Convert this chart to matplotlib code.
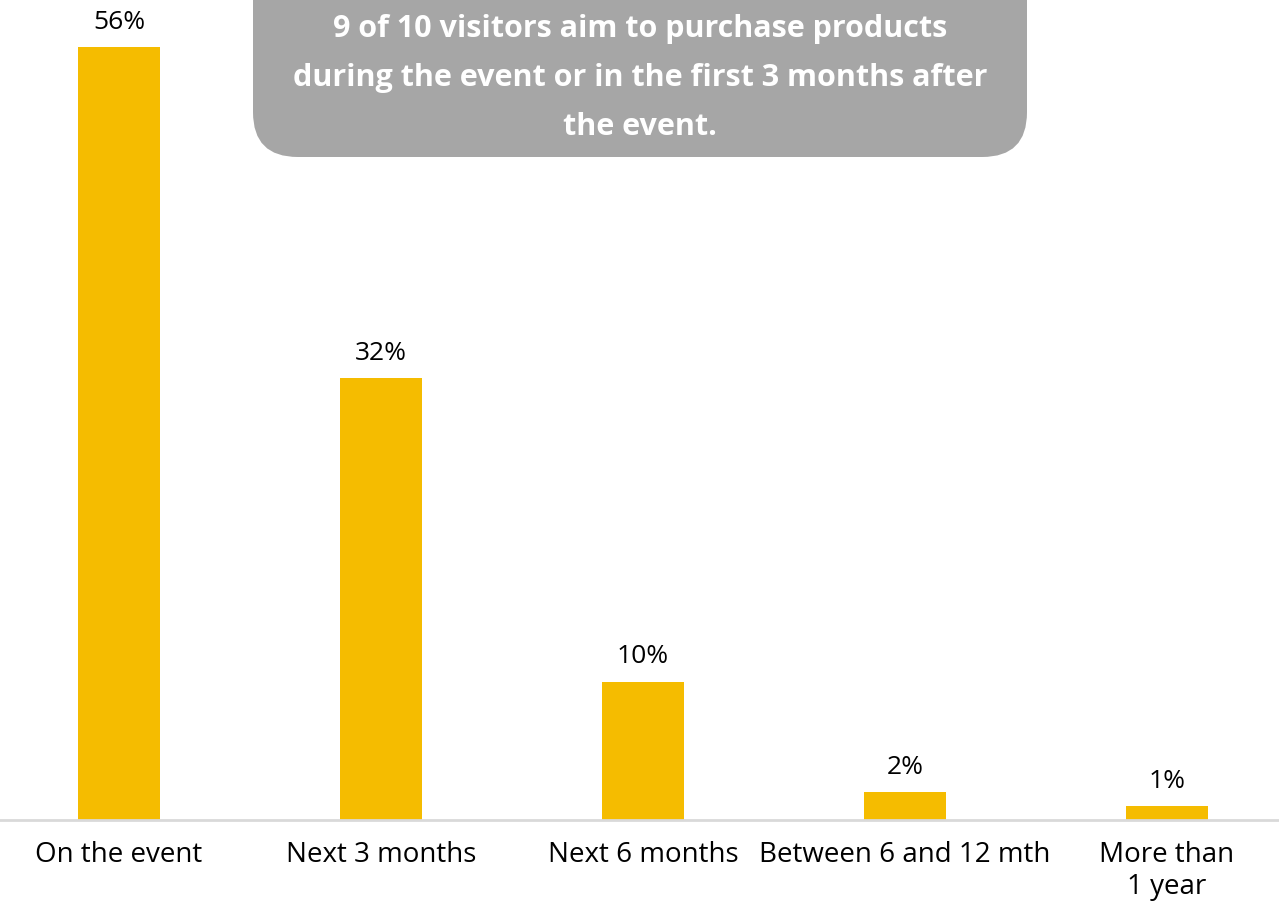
import matplotlib
matplotlib.use("Agg")
import matplotlib.pyplot as plt
from matplotlib.patches import FancyBboxPatch

categories = ["On the event", "Next 3 months", "Next 6 months",
              "Between 6 and 12 mth", "More than\n1 year"]
shares = [56, 32, 10, 2, 1]
value_labels = ["56%", "32%", "10%", "2%", "1%"]
callout_text = ("9 of 10 visitors aim to purchase products\n"
                "during the event or in the first 3 months after\n"
                "the event.")

plt.rcParams["font.family"] = ["Open Sans", "DejaVu Sans"]

fig = plt.figure(figsize=(12.79, 9.06), dpi=100)
ax = fig.add_axes([0, 86 / 906, 1, 820 / 906])

x = list(range(len(categories)))
bars = ax.bar(x, shares, width=0.31, color="#F5BC00", zorder=2)

ax.set_xlim(-119 / 262, 1160 / 262)
ax.set_ylim(0, 56 * 820 / 773)

for rect, lab in zip(bars, value_labels):
    ax.annotate(lab, (rect.get_x() + rect.get_width() / 2, rect.get_height()),
                xytext=(0, 9), textcoords="offset points",
                ha="center", va="bottom", fontsize=19, color="#000000")

ax.set_xticks(x)
ax.set_xticklabels(categories, fontsize=20, color="#000000", linespacing=1.2)
ax.tick_params(axis="x", length=0, pad=15)
ax.set_yticks([])
for side in ("top", "left", "right"):
    ax.spines[side].set_visible(False)
ax.spines["bottom"].set_color("#D9D9D9")
ax.spines["bottom"].set_linewidth(2)

# rounded grey callout box at the top
box = FancyBboxPatch((253 / 1279, (906 - 157) / 906),
                     (1027 - 253) / 1279, 0.25,
                     boxstyle="round,pad=0,rounding_size=0.035",
                     transform=fig.transFigure, facecolor="#A6A6A6",
                     edgecolor="none", mutation_aspect=1279 / 906, zorder=5)
fig.patches.append(box)
fig.text(640 / 1279, (906 - 78) / 906, callout_text, ha="center", va="center",
         fontsize=22, fontweight="bold", color="white", linespacing=1.82,
         zorder=6)

fig.savefig("out.png", dpi=100)
